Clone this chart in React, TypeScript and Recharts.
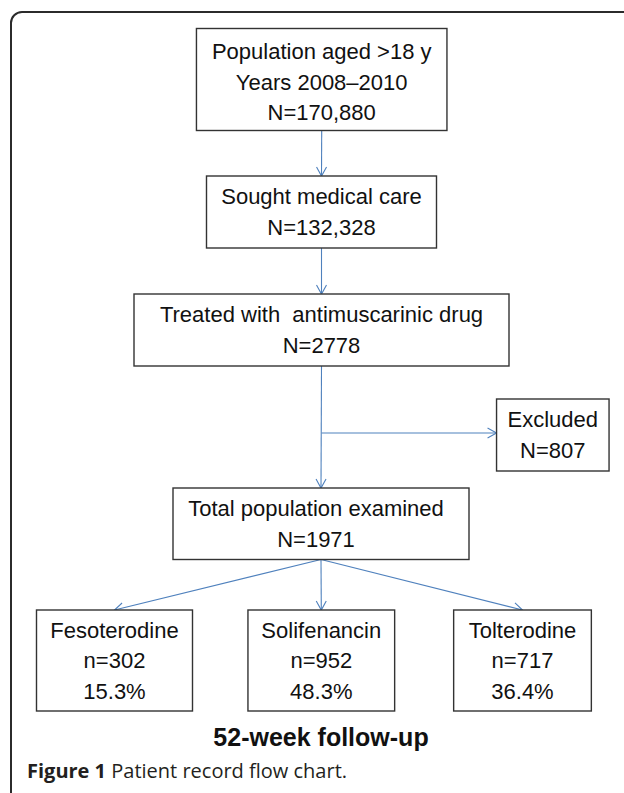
import { ScatterChart, Scatter, XAxis, YAxis } from 'recharts';

// flow chart content
const stageLabels = [
  ['Population aged >18 y', 'Years 2008–2010'],
  ['Sought medical care'],
  ['Treated with  antimuscarinic drug'],
  ['Excluded'],
  ['Total population examined'],
];
const stageCounts = [170880, 132328, 2778, 807, 1971];
const armNames = ['Fesoterodine', 'Solifenancin', 'Tolterodine'];
const armCounts = [302, 952, 717];
const armShares = [15.3, 48.3, 36.4];

// layout in chart units (1 unit = 1 px)
const nodeCenterX = [321.7, 321.5, 321.5, 552.8, 321, 114.5, 321.3, 522.5];
const nodeTop = [28.5, 176, 294, 399, 488, 610, 610, 610];
const nodeWidth = [250.5, 230, 375, 112.5, 296, 156, 146.7, 137.7];
const nodeHeight = [102, 72, 72, 72, 71.5, 101, 101, 101];
const nodeFirstBaseline = [30.5, 28, 28, 28, 28, 27.5, 27.5, 27.5];
const nodeTextShift = [0, 0, 0, 0, -5, 0, 0, 0];
const edgePairs = [[0, 1], [1, 2], [2, 4], [4, 5], [4, 6], [4, 7]];
const excludeBranchY = 433;

const W = 624;
const H = 793;
const ARROW = '#4f81bd';
const FONT = '"Liberation Sans", Arial, sans-serif';

const fmt = (n: number) => (n >= 10000 ? n.toLocaleString('en-US') : String(n));

const nodeText: string[][] = [
  ...stageLabels.map((l, i) => [...l, `N=${fmt(stageCounts[i])}`]),
  ...armNames.map((n, i) => [n, `n=${armCounts[i]}`, `${armShares[i].toFixed(1)}%`]),
];

const nodes = nodeText.map((lines, i) => ({
  x: nodeCenterX[i],
  y: nodeTop[i] + nodeHeight[i] / 2,
  idx: i,
  lines,
}));

const bottomOf = (i: number) => ({ x: nodeCenterX[i], y: nodeTop[i] + nodeHeight[i] });
const topOf = (i: number) => ({ x: nodeCenterX[i], y: nodeTop[i] });

const edges = [
  ...edgePairs.map(([a, b]) => [bottomOf(a), topOf(b)]),
  [
    { x: nodeCenterX[2], y: excludeBranchY },
    { x: nodeCenterX[3] - nodeWidth[3] / 2, y: excludeBranchY },
  ],
].map(([p, q]) => [
  { x: p.x, y: p.y },
  { x: q.x, y: q.y, head: true, dx: q.x - p.x, dy: q.y - p.y },
]);

function NodeBox(props: any) {
  const { cx, cy, payload } = props;
  const i = payload.idx;
  const w = nodeWidth[i];
  const h = nodeHeight[i];
  const top = cy - h / 2;
  return (
    <g>
      <rect x={cx - w / 2} y={top} width={w} height={h} fill='#fff' stroke='#333' strokeWidth={1.4} />
      {payload.lines.map((t: string, k: number) => (
        <text
          key={k}
          x={cx + nodeTextShift[i]}
          y={top + nodeFirstBaseline[i] + k * 30.5}
          textAnchor='middle'
          fontFamily={FONT}
          fontSize={22}
          fill='#111'
          style={{ whiteSpace: 'pre' }}
        >
          {t}
        </text>
      ))}
    </g>
  );
}

function ArrowHead(props: any) {
  const { cx, cy, payload } = props;
  if (!payload.head) return <g />;
  const len = Math.hypot(payload.dx, payload.dy) || 1;
  const ux = payload.dx / len;
  const uy = payload.dy / len;
  const bx = cx - ux * 9;
  const by = cy - uy * 9;
  const d = `M${bx - uy * 5},${by + ux * 5} L${cx},${cy} L${bx + uy * 5},${by - ux * 5}`;
  return <path d={d} fill='none' stroke={ARROW} strokeWidth={1.1} />;
}

export default function App() {
  return (
    <div
      style={{
        position: 'absolute',
        left: 0,
        top: 0,
        width: W,
        height: H,
        overflow: 'hidden',
        background: '#fff',
      }}
    >
      <div
        style={{
          position: 'absolute',
          left: 10,
          top: 11,
          width: 700,
          height: 900,
          border: '2px solid #2b2b2b',
          borderRadius: 12,
        }}
      />
      <div style={{ position: 'absolute', left: 0, top: 0 }}>
        <ScatterChart width={W} height={H} margin={{ top: 0, right: 0, bottom: 0, left: 0 }}>
          <XAxis type='number' dataKey='x' domain={[0, W]} hide allowDataOverflow />
          <YAxis type='number' dataKey='y' domain={[0, H]} reversed hide allowDataOverflow />
          {edges.map((e, i) => (
            <Scatter
              key={`e${i}`}
              data={e}
              line={{ stroke: ARROW, strokeWidth: 1.1 }}
              shape={ArrowHead}
              isAnimationActive={false}
            />
          ))}
          <Scatter data={nodes} shape={NodeBox} isAnimationActive={false} />
        </ScatterChart>
      </div>
      <div
        style={{
          position: 'absolute',
          left: 0,
          width: 642,
          top: 723,
          textAlign: 'center',
          fontFamily: FONT,
          fontWeight: 'bold',
          fontSize: 25,
          color: '#111',
        }}
      >
        52-week follow-up
      </div>
      <div
        style={{
          position: 'absolute',
          left: 27,
          top: 757,
          fontFamily: '"Open Sans", sans-serif',
          fontSize: 20,
          color: '#231f20',
          whiteSpace: 'nowrap',
        }}
      >
        <b>Figure 1</b> Patient record flow chart.
      </div>
    </div>
  );
}
